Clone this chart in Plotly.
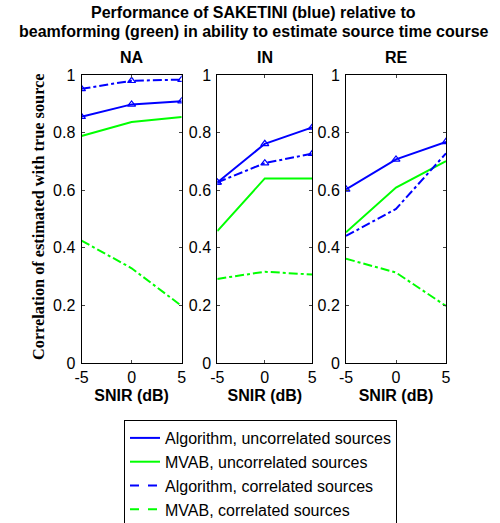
import plotly.graph_objects as go

snir = [-5, 0, 5]
panels = ["NA", "IN", "RE"]

alg_uncorr = {"NA": [0.855, 0.898, 0.909], "IN": [0.627, 0.761, 0.818], "RE": [0.603, 0.707, 0.768]}
mvab_uncorr = {"NA": [0.788, 0.837, 0.854], "IN": [0.458, 0.641, 0.641], "RE": [0.454, 0.609, 0.701]}
alg_corr = {"NA": [0.952, 0.980, 0.984], "IN": [0.627, 0.694, 0.727], "RE": [0.441, 0.535, 0.728]}
mvab_corr = {"NA": [0.425, 0.329, 0.198], "IN": [0.292, 0.317, 0.307], "RE": [0.362, 0.314, 0.198]}

names = ["Algorithm, uncorrelated sources", "MVAB, uncorrelated sources",
         "Algorithm, correlated sources", "MVAB, correlated sources"]

W, H = 500, 523
xpix = [(81.5, 181.7), (217.3, 312.3), (346.0, 446.0)]
ytop, ybot = 75, 363

BLUE = "#0000ff"
GREEN = "#00ff00"
FS = 16

fig = go.Figure()
for i, p in enumerate(panels):
    ax = "" if i == 0 else str(i + 1)
    series = [
        (alg_uncorr[p], BLUE, "solid", True),
        (mvab_uncorr[p], GREEN, "solid", False),
        (alg_corr[p], BLUE, "dashdot", p != "RE"),
        (mvab_corr[p], GREEN, "dashdot", False),
    ]
    for k, (vals, col, dash, mk) in enumerate(series):
        fig.add_trace(go.Scatter(
            x=snir, y=vals, xaxis="x" + ax, yaxis="y" + ax,
            mode="lines+markers" if mk else "lines",
            line=dict(color=col, width=2, dash=dash),
            marker=dict(symbol="triangle-up-open", size=7, color=col,
                        line=dict(width=1.2, color=col)) if mk else None,
            name=names[k], showlegend=False,
        ))

# legend-only entries (line samples as in the reference legend)
leg_styles = [(BLUE, "solid"), (GREEN, "solid"), (BLUE, "dash"), (GREEN, "dash")]
for k, (col, dash) in enumerate(leg_styles):
    fig.add_trace(go.Scatter(x=[None], y=[None], mode="lines", name=names[k],
                             line=dict(color=col, width=2, dash=dash), showlegend=True))

layout = dict(
    width=W, height=H, margin=dict(l=0, r=0, t=0, b=0, autoexpand=False),
    paper_bgcolor="white", plot_bgcolor="white",
    font=dict(family="Liberation Sans, Arial", size=FS, color="black"),
    showlegend=True,
    legend=dict(x=124 / W, y=1 - 420 / H, xanchor="left", yanchor="top",
                bordercolor="black", borderwidth=1, bgcolor="white",
                font=dict(size=FS), tracegroupgap=0, itemwidth=30),
)
annotations = []
for i, p in enumerate(panels):
    ax = "" if i == 0 else str(i + 1)
    x0, x1 = xpix[i]
    layout["xaxis" + ax] = dict(
        domain=[x0 / W, x1 / W], range=[-5, 5], tickvals=snir, ticktext=["-5", "0", "5"],
        ticks="inside", ticklen=3, showline=True, linecolor="black", linewidth=1, mirror="ticks",
        showgrid=False, zeroline=False, anchor="y" + ax, fixedrange=True, automargin=False,
        title=dict(text="<b>SNIR (dB)</b>", font=dict(size=FS), standoff=4),
        tickfont=dict(size=FS),
    )
    layout["yaxis" + ax] = dict(
        domain=[1 - ybot / H, 1 - ytop / H], range=[0, 1],
        tickvals=[0, 0.2, 0.4, 0.6, 0.8, 1], ticktext=["0", "0.2", "0.4", "0.6", "0.8", "1"],
        ticks="inside", ticklen=3, showline=True, linecolor="black", linewidth=1, mirror="ticks",
        showgrid=False, zeroline=False, anchor="x" + ax, fixedrange=True, automargin=False,
        tickfont=dict(size=FS), ticklabelstandoff=2,
    )
    annotations.append(dict(text="<b>%s</b>" % p, x=(x0 + x1) / 2 / W, y=1 - 57 / H,
                            xref="paper", yref="paper", showarrow=False,
                            font=dict(size=FS), xanchor="center", yanchor="middle"))

annotations.append(dict(text="<b>Performance of SAKETINI (blue) relative to</b>", x=253 / W, y=1 - 12 / H,
                        xref="paper", yref="paper", showarrow=False, font=dict(size=FS),
                        xanchor="center", yanchor="middle"))
annotations.append(dict(text="<b>beamforming (green) in ability to estimate source time course</b>", x=254 / W,
                        y=1 - 31 / H, xref="paper", yref="paper", showarrow=False, font=dict(size=FS),
                        xanchor="center", yanchor="middle"))
annotations.append(dict(text="<b>Correlation of estimated with true source</b>", x=38 / W, y=1 - 217 / H,
                        xref="paper", yref="paper", showarrow=False, textangle=-90,
                        font=dict(family="Liberation Serif, Times New Roman", size=16.3),
                        xanchor="center", yanchor="middle"))
layout["annotations"] = annotations
fig.update_layout(**layout)
fig.write_html("out.html", config={"displayModeBar": False},
               post_script="document.body.style.margin='0';document.body.style.padding='0';")
